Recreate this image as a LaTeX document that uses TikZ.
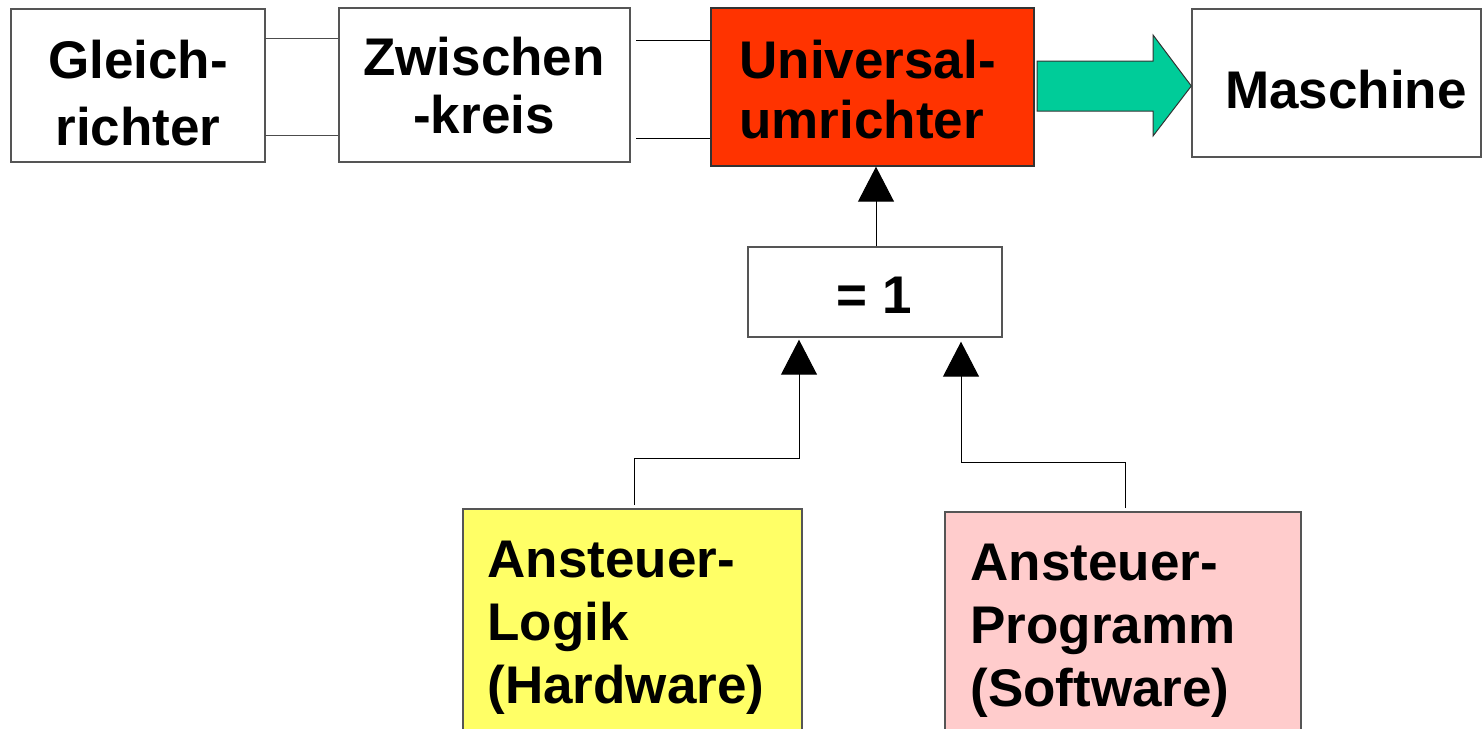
\documentclass[tikz,border=0pt]{standalone}
\usepackage{fontspec}
\setmainfont{Liberation Sans}
\usetikzlibrary{arrows.meta}
\definecolor{ured}{HTML}{FF3300}
\definecolor{agreen}{HTML}{00CC99}
\definecolor{lyellow}{HTML}{FFFF66}
\definecolor{lpink}{HTML}{FFCCCC}
\definecolor{bordergray}{HTML}{555555}
\tikzset{
  blk/.style={draw=bordergray, line width=0.7pt, inner sep=0pt, fill=white},
  txt/.style={font=\bfseries\fontsize{26.5}{31.5}\selectfont, inner sep=0pt},
  conn/.style={draw=black, line width=0.5pt},
  tri/.style={conn, -{Triangle[width=18pt,length=17.5pt]}}
}
\begin{document}
\begin{tikzpicture}[x=0.5pt,y=-0.5pt]
\useasboundingbox (0,0) rectangle (1482,728);
\clip (0,0) rectangle (1482,728);
% boxes
\node[blk, minimum width=127pt, minimum height=76.5pt] (gl) at (138,85.5) {};
\node[blk, minimum width=145.5pt, minimum height=77pt] (zw) at (484.5,85) {};
\node[blk, fill=ured, draw=black!80, minimum width=161.5pt, minimum height=79pt] (un) at (872.5,87) {};
\node[blk, minimum width=144.5pt, minimum height=74pt] (ma) at (1336.5,83) {};
\node[blk, minimum width=127pt, minimum height=45pt] (eq) at (875,292) {};
\node[blk, fill=lyellow, minimum width=169.5pt, minimum height=115.5pt] (lo) at (632.5,624.5) {};
\node[blk, fill=lpink, minimum width=178pt, minimum height=114pt] (pr) at (1123,626) {};
% texts (anchor base = baseline of last line)
\node[txt, align=center, font=\bfseries\fontsize{26.5}{33.5}\selectfont, anchor=base] (tgl) at (138,145) {Gleich-\\richter};
\node[txt, align=center, font=\bfseries\fontsize{26.5}{29}\selectfont, anchor=base] (tzw) at (484,133) {Zwischen\\-kreis};
\node[txt, align=left, font=\bfseries\fontsize{26.5}{30}\selectfont, anchor=base west] (tun) at (739,138) {Universal-\\umrichter};
\node[txt, anchor=base] (tma) at (1346,108) {Maschine};
\node[txt, anchor=base] (teq) at (874,313) {= 1};
\node[txt, align=left, anchor=base west] (tlo) at (487,703) {Ansteuer-\\Logik\\(Hardware)};
\node[txt, align=left, anchor=base west] (tpr) at (970,706) {Ansteuer-\\Programm\\(Software)};
% top connectors
\coordinate (a1) at (265,38);  \coordinate (a2) at (265,135);
\coordinate (b1) at (636,40);  \coordinate (b2) at (636,138);
\draw[conn, draw=black!70] (a1) -- (zw.west |- a1);
\draw[conn, draw=black!70] (a2) -- (zw.west |- a2);
\draw[conn] (b1) -- (un.west |- b1);
\draw[conn] (b2) -- (un.west |- b2);
% big arrow
\coordinate (g0) at (1037,86);
\draw[draw=black!80, line width=0.5pt, fill=agreen]
  (1037,61) -- (1153,61) -- (1153,35) -- (ma.west |- g0) -- (1153,136) -- (1153,111) -- (1037,111) -- cycle;
% arrows
\draw[tri] (eq.north -| 876,0) -- (un.south -| 876,0);
\coordinate (l0) at (634,505); \coordinate (l1) at (634,458); \coordinate (l2) at (799,458);
\draw[tri] (l0) -- (l1) -- (l2) -- ([yshift=-1pt]eq.south -| l2);
\coordinate (r0) at (1125,508); \coordinate (r1) at (1125,462); \coordinate (r2) at (961,462);
\draw[tri] (r0) -- (r1) -- (r2) -- ([yshift=-2pt]eq.south -| r2);
\end{tikzpicture}
\end{document}
